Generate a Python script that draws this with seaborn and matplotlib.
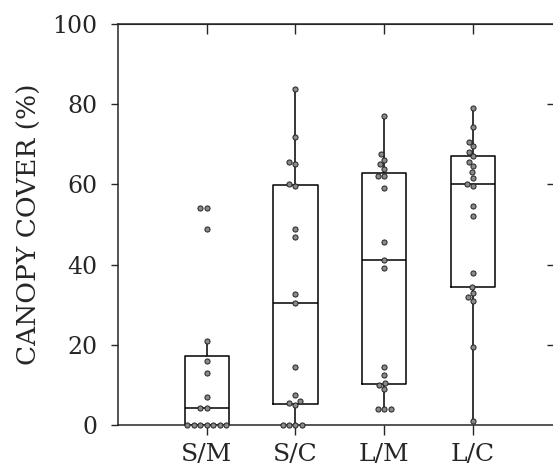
import pandas as pd
import matplotlib.pyplot as plt
import seaborn as sns

sns.set_style("ticks")
plt.rcParams['font.family'] = ['DejaVu Serif']

## Datos (cobertura de dosel, %)
groups = ["S/M", "S/C", "L/M", "L/C"]
sm = [0, 0, 0, 0, 0, 0, 0, 4.3, 4.3, 7, 13, 16, 21, 49, 54, 54]
sc = [0, 0, 0, 0, 5, 5.5, 6, 7.5, 14.5, 30.5, 32.7, 47, 49, 59.5, 60, 65, 65.5, 71.7, 83.7]
lm = [4, 4, 4, 9, 10, 10.5, 12.5, 14.5, 39.2, 41.2, 45.7, 59, 62, 62, 63.8, 65, 66.2, 67.5, 77]
lc = [1, 19.5, 31, 32, 33, 34.5, 38, 52, 54.7, 59.5, 60, 61.5, 63, 64.5, 65.7, 67, 68.2,
      69.5, 70.7, 74.2, 79]

df = pd.DataFrame({
    "grupo": ["S/M"] * len(sm) + ["S/C"] * len(sc) + ["L/M"] * len(lm) + ["L/C"] * len(lc),
    "cobertura": sm + sc + lm + lc,
})

fig = plt.figure(figsize=(5.53, 4.69), dpi=100)
ax = fig.add_axes([0.2134, 0.0938, 0.794, 0.855])

sns.boxplot(data=df, x="grupo", y="cobertura", order=groups, fill=False, color="black",
            width=0.5, linewidth=1.1, showcaps=False, showfliers=False, ax=ax)
sns.swarmplot(data=df, x="grupo", y="cobertura", order=groups, color="#8a8a8a",
              edgecolor="#222222", linewidth=0.7, size=3.7, clip_on=False, zorder=3, ax=ax)

ax.set_xlim(-1, 3.95)
ax.set_ylim(0, 100)
ax.set_yticks([0, 20, 40, 60, 80, 100])
ax.set_xlabel("")
ax.set_ylabel("CANOPY COVER (%)", fontsize=19, labelpad=7)
ax.tick_params(axis="y", labelsize=17, length=5, width=1, direction="out", pad=10)
ax.tick_params(axis="x", labelsize=18, length=7, width=1, direction="out", pad=6)
for s in ax.spines.values():
    s.set_linewidth(1.1)

# marcas interiores arriba y a la derecha
top = ax.secondary_xaxis("top")
top.set_xticks(range(4), labels=[""] * 4)
top.tick_params(direction="in", length=7, width=1)
right = ax.secondary_yaxis("right")
right.set_yticks([20, 40, 60, 80], labels=[""] * 4)
right.tick_params(direction="in", length=7, width=1)

fig.savefig("out.png", dpi=100)
